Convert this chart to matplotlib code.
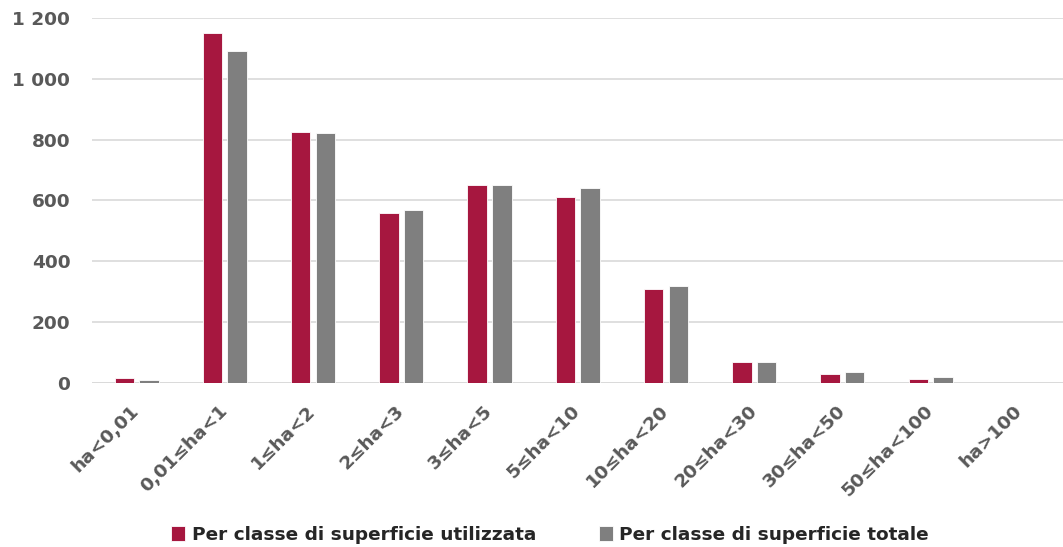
import matplotlib

matplotlib.use("Agg")
import matplotlib.pyplot as plt
import numpy as np

plt.rcParams["font.family"] = ["DejaVu Sans"]

categories = [
    "ha<0,01", "0,01≤ha<1", "1≤ha<2", "2≤ha<3", "3≤ha<5", "5≤ha<10",
    "10≤ha<20", "20≤ha<30", "30≤ha<50", "50≤ha<100", "ha>100",
]
utilizzata = [15, 1150, 825, 560, 650, 610, 308, 68, 29, 14, 0]
totale = [10, 1092, 822, 569, 650, 642, 320, 68, 37, 18, 0]
y_ticks = [0, 200, 400, 600, 800, 1000, 1200]
y_labels = ["0", "200", "400", "600", "800", "1 000", "1 200"]

RED = "#A6173F"
GREY = "#7F7F7F"
TICK_COLOR = "#595959"
FS = 13.3

fig = plt.figure(figsize=(10.63, 5.47), dpi=100)
ax = fig.add_axes([0.087, 0.300, 0.913, 0.667])

x = np.arange(len(categories))
w = 0.22
ax.bar(x - 0.14, utilizzata, width=w, color=RED, edgecolor="white", linewidth=0.6,
       label="Per classe di superficie utilizzata", zorder=3)
ax.bar(x + 0.14, totale, width=w, color=GREY, edgecolor="white", linewidth=0.6,
       label="Per classe di superficie totale", zorder=3)

ax.set_xlim(-0.5, len(categories) - 0.5)
ax.set_ylim(0, 1200)
ax.set_yticks(y_ticks)
ax.set_yticklabels(y_labels)
ax.grid(axis="y", color="#D9D9D9", linewidth=1.2, zorder=0)
for side in ["top", "right", "left", "bottom"]:
    ax.spines[side].set_visible(False)
ax.axhline(0, color="#D9D9D9", linewidth=1.2, zorder=1)

ax.tick_params(axis="both", length=0, labelsize=FS, labelcolor=TICK_COLOR)
ax.tick_params(axis="y", pad=16)
ax.set_xticks(x)
ax.set_xticklabels(categories, rotation=45, ha="right", va="center",
                   rotation_mode="anchor", fontweight="bold")
ax.tick_params(axis="x", pad=18)
for lbl in ax.get_yticklabels():
    lbl.set_fontweight("bold")

fig.legend(loc="lower center", bbox_to_anchor=(0.5175, -0.025), ncol=2, frameon=False,
           handlelength=0.75, handleheight=0.9, handletextpad=0.35, columnspacing=3.4,
           prop={"weight": "bold", "size": FS})
for t in fig.legends[0].get_texts():
    t.set_color("#262626")

fig.savefig("out.png", dpi=100)
